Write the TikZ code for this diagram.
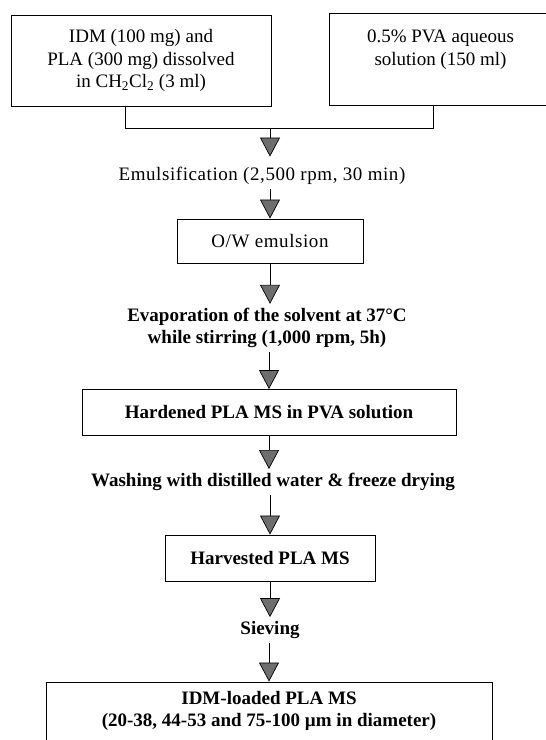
\documentclass[tikz,border=0pt]{standalone}
\usepackage{fontspec}
\setmainfont{Liberation Serif}
\usetikzlibrary{arrows.meta}
\definecolor{tipgray}{HTML}{6E6E6E}
\newcommand\figfs{\fontsize{19}{22.5}\selectfont}
\newcommand\figsp{\addfontfeatures{LetterSpace=3}}
\begin{document}
\begin{tikzpicture}[x=1pt,y=-1pt,
  box/.style={draw=black, line width=0.9pt, inner sep=0pt, align=center, font=\figfs},
  bbox/.style={box, font=\figfs\bfseries},
  sbox/.style={box, font=\figfs\figsp},
  lbl/.style={inner xsep=2pt, inner ysep=4pt, align=center, font=\figfs\bfseries},
  rlbl/.style={lbl, font=\figfs\figsp},
  link/.style={draw=black, line width=0.9pt},
  flow/.style={draw=black, line width=0.9pt,
    -{Triangle[width=20pt,length=19pt,fill=tipgray,line width=0.7pt]}}]
\useasboundingbox (0,0) rectangle (546,740);

% top boxes
\node[box, minimum width=260pt, minimum height=91pt] (boxA) at (141,60.5)
  {IDM (100 mg) and\\PLA (300 mg) dissolved\\in CH\textsubscript{2}Cl\textsubscript{2} (3 ml)};
\node[box, minimum width=223pt, minimum height=92pt] (boxB) at (440.5,59)
  {0.5\% PVA aqueous\\solution (150 ml)\\~};

% junction
\coordinate (jl) at (125,128);
\coordinate (jr) at (433,128);
\coordinate (jm) at (270,128);
\draw[link] (jl |- boxA.south) -- (jl) -- (jr) -- (jr |- boxB.south);

% steps
\node[rlbl] (emul) at (262,176) {Emulsification (2,500 rpm, 30 min)};
\node[sbox, minimum width=186pt, minimum height=44pt] (ow) at (270,241) {O/W emulsion};
\node[lbl] (evap) at (267,328) {Evaporation of the solvent at 37°C\\while stirring (1,000 rpm, 5h)};
\node[bbox, minimum width=374pt, minimum height=46pt] (hard) at (269,412.5) {Hardened PLA MS in PVA solution};
\node[lbl] (wash) at (273,482) {Washing with distilled water \& freeze drying};
\node[bbox, minimum width=210pt, minimum height=46pt] (harv) at (270,558) {Harvested PLA MS};
\node[lbl] (siev) at (270,630) {Sieving};
\node[bbox, minimum width=446pt, minimum height=76pt] (final) at (269,720)
  {IDM-loaded PLA MS\\(20-38, 44-53 and 75-100 µm in diameter)\\~};

% arrows
\draw[flow, shorten >=6.5pt] (jm) -- (jm |- emul.north);
\draw[flow] (emul.south -| jm) -- (jm |- ow.north);
\draw[flow] (ow.south) -- (ow.south |- evap.north);
\draw[flow] (evap.south -| hard.north) -- (hard.north);
\draw[flow] (hard.south) -- (hard.south |- wash.north);
\draw[flow] (wash.south -| harv.north) -- (harv.north);
\draw[flow] (harv.south) -- (harv.south |- siev.north);
\draw[flow] (siev.south -| final.north) -- (final.north);
\end{tikzpicture}
\end{document}
